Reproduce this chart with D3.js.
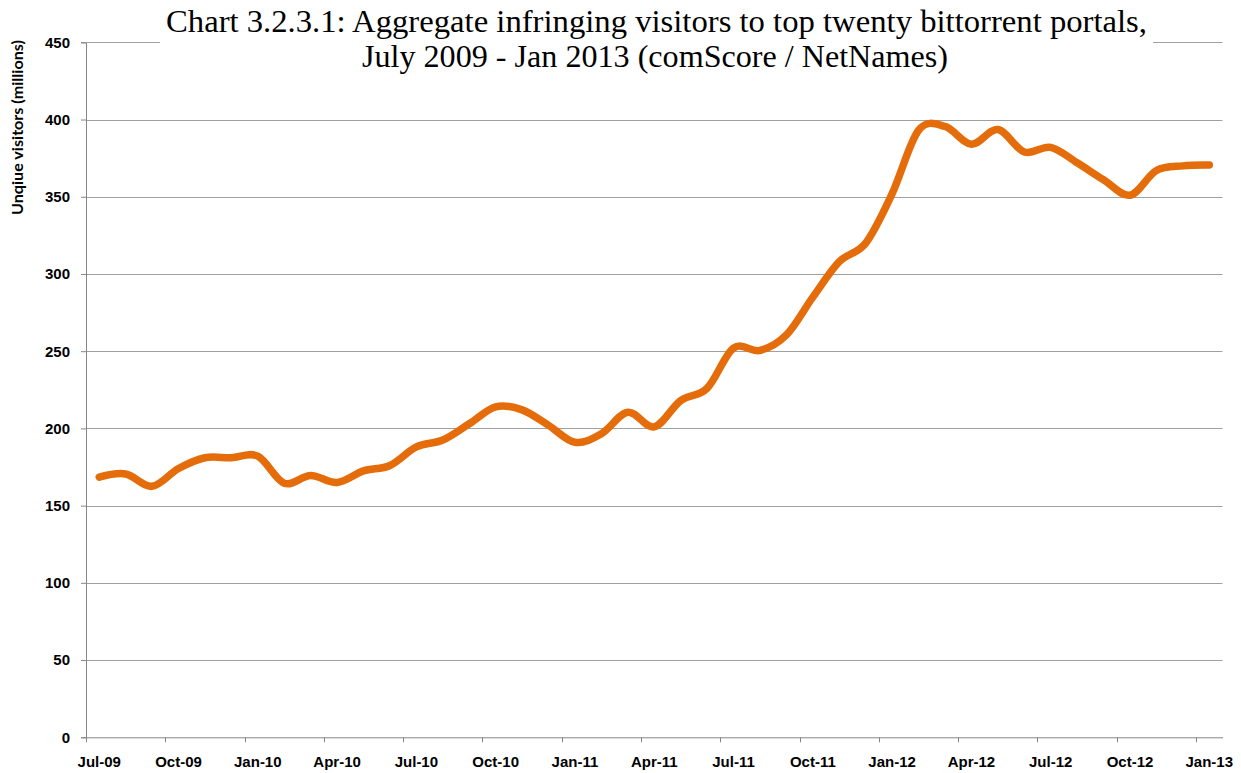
<!DOCTYPE html>
<html>
<head>
<meta charset="utf-8">
<script src="https://cdn.jsdelivr.net/npm/d3@7"></script>
<style>
  body { margin: 0; background: #fff; }
  svg { display: block; }
</style>
</head>
<body>
<svg></svg>
<script>
const width = 1241;
const height = 773;

// data
const months = [
  "Jul-09","Aug-09","Sep-09","Oct-09","Nov-09","Dec-09",
  "Jan-10","Feb-10","Mar-10","Apr-10","May-10","Jun-10",
  "Jul-10","Aug-10","Sep-10","Oct-10","Nov-10","Dec-10",
  "Jan-11","Feb-11","Mar-11","Apr-11","May-11","Jun-11",
  "Jul-11","Aug-11","Sep-11","Oct-11","Nov-11","Dec-11",
  "Jan-12","Feb-12","Mar-12","Apr-12","May-12","Jun-12",
  "Jul-12","Aug-12","Sep-12","Oct-12","Nov-12","Dec-12",
  "Jan-13"
];
const visitors = [
  168.5, 170.5, 162.5, 174, 181, 181,
  182, 164.5, 169.5, 165, 172.5, 176,
  188, 192.5, 203, 214, 212, 202,
  191, 196.5, 210.5, 201, 218, 226,
  252, 250.5, 260.5, 285, 308, 320,
  352, 393, 395.5, 384, 393.5, 379,
  382, 372, 361, 351, 367, 370,
  370.5
];
const yTicks = [0, 50, 100, 150, 200, 250, 300, 350, 400, 450];
const titleLines = [
  "Chart 3.2.3.1: Aggregate infringing visitors to top twenty bittorrent portals,",
  "July 2009 - Jan 2013 (comScore / NetNames)"
];
const yLabel = "Unqiue visitors (millions)";

const plotLeft = 86, plotRight = 1222.5, plotTop = 42.3, plotBottom = 737.3;

let svg = d3.select("svg")
  .attr("width", width)
  .attr("height", height)
  .style("font-family", "Lato, 'Open Sans', sans-serif");

let x = d3.scaleBand().domain(months).range([plotLeft, plotRight]).padding(0);
let y = d3.scaleLinear().domain([0, 450]).range([plotBottom, plotTop]);

// gridlines
svg.append("g").selectAll("line")
  .data(yTicks.filter(d => d > 0))
  .enter().append("line")
  .attr("x1", plotLeft + 0.5).attr("x2", plotRight)
  .attr("y1", d => Math.round(y(d)) + 0.5).attr("y2", d => Math.round(y(d)) + 0.5)
  .attr("stroke", "#a0a0a0").attr("stroke-width", 1);

// y axis
let gy = svg.append("g")
  .attr("transform", `translate(${plotLeft},0)`)
  .call(d3.axisLeft(y).tickValues(yTicks).tickSize(5).tickPadding(11));
gy.select(".domain").attr("stroke", "#868686");
gy.selectAll(".tick line").attr("stroke", "#868686");
gy.selectAll(".tick text")
  .style("font-size", "15px").style("font-weight", "bold").attr("fill", "#000");

// x axis: labels at band centers, ticks at band edges, every 3 months
const labelled = months.filter((m, i) => i % 3 === 0);
let gx = svg.append("g")
  .attr("transform", `translate(0,${plotBottom})`)
  .call(d3.axisBottom(x).tickValues(labelled).tickSize(0).tickPadding(19));
gx.select(".domain").attr("stroke", "#868686");
gx.selectAll(".tick text")
  .style("font-size", "15px").style("font-weight", "bold").attr("fill", "#000");
svg.append("g").selectAll("line")
  .data(labelled)
  .enter().append("line")
  .attr("x1", d => Math.round(x(d)) + 0.5).attr("x2", d => Math.round(x(d)) + 0.5)
  .attr("y1", plotBottom).attr("y2", plotBottom + 5)
  .attr("stroke", "#868686");

// the series
let line = d3.line()
  .x((d, i) => x(months[i]) + x.bandwidth() / 2)
  .y(d => y(d))
  .curve(d3.curveCardinal.tension(0));

svg.append("path")
  .datum(visitors)
  .attr("d", line)
  .attr("fill", "none")
  .attr("stroke", "#E46C0A")
  .attr("stroke-width", 7.5)
  .attr("stroke-linecap", "round")
  .attr("stroke-linejoin", "round");

// title, with white box hiding the top gridline
svg.append("rect")
  .attr("x", 160).attr("y", 0).attr("width", 993).attr("height", 78)
  .attr("fill", "#fff");
const titleX = [166, 362], titleW = [981, 586], titleY = [32, 67];
svg.selectAll(".title")
  .data(titleLines)
  .enter().append("text")
  .attr("class", "title")
  .attr("x", (d, i) => titleX[i])
  .attr("y", (d, i) => titleY[i])
  .attr("textLength", (d, i) => titleW[i])
  .attr("lengthAdjust", "spacingAndGlyphs")
  .style("font-family", "'Liberation Serif', 'DejaVu Serif', serif")
  .style("font-size", "31px")
  .attr("fill", "#000")
  .text(d => d);

// y axis title
svg.append("text")
  .attr("transform", "translate(22.5,127.5) rotate(-90)")
  .attr("text-anchor", "middle")
  .attr("textLength", 175)
  .attr("lengthAdjust", "spacingAndGlyphs")
  .style("font-size", "14.5px")
  .style("font-weight", "bold")
  .attr("fill", "#000")
  .text(yLabel);
</script>
</body>
</html>
